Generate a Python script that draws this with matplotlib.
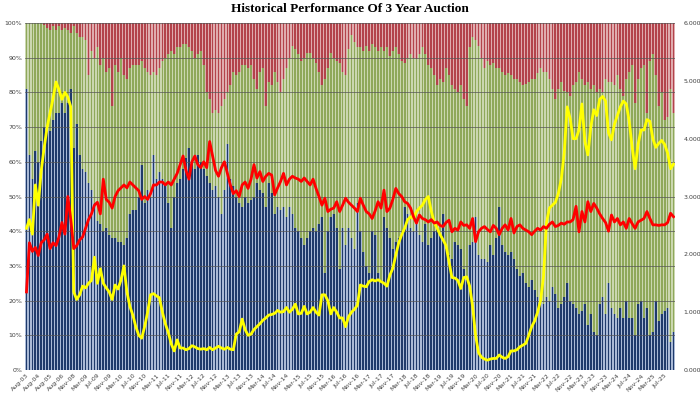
import matplotlib
matplotlib.use("Agg")
import matplotlib.pyplot as plt
import numpy as np
import pandas as pd

# auction dates: quarterly Aug-03..May-07, then monthly Nov-08..Oct-25
dates = list(pd.date_range("2003-08-01", periods=16, freq="3MS")) + \
    list(pd.date_range("2008-11-01", "2025-10-01", freq="MS"))
labels = [d.strftime("%b-%y") for d in dates]

# bottom share (%)
blue = [
    81, 62, 55, 63, 60, 66, 70, 70, 69, 72, 74, 74, 77, 74, 77, 81,
    64, 71, 62, 58, 57, 54, 52, 48, 43, 42, 40, 41, 39, 38, 38, 37, 37, 36, 38, 45, 46,
    46, 50, 59, 48, 52, 50, 62, 55, 57, 55, 54, 48, 41, 50, 54, 55, 58, 61, 64, 60,
    58, 62, 60, 58, 56, 54, 52, 53, 50, 45, 52, 65, 55, 53, 50, 48, 47, 50,
    48, 49, 50, 54, 52, 51, 47, 54, 51, 45, 47, 46, 47, 44, 47, 45, 41, 40, 38, 36,
    38, 40, 41, 40, 42, 44, 28, 40, 44, 45, 41, 29, 41, 36, 41, 38, 35, 48,
    40, 34, 30, 28, 40, 39, 28, 26, 44, 41, 38, 35, 37, 38, 40, 47, 45, 41, 40, 42,
    39, 37, 42, 36, 38, 40, 41, 39, 45, 35, 33, 32, 37, 36, 35, 29, 26,
    36, 37, 44, 33, 32, 32, 31, 36, 33, 38, 47, 36, 34, 33, 34, 32, 29, 27, 28, 25,
    24, 26, 23, 21, 20, 19, 21, 20, 24, 22, 18, 19, 21, 25, 20, 19, 18, 16,
    17, 19, 13, 16, 11, 10, 19, 21, 16, 25, 18, 16, 15, 18, 15, 20, 15, 15, 10, 19,
    20, 15, 18, 10, 11, 20, 14, 16, 17, 18, 8, 11,
]

# top of the middle series (%), the rest up to 100% is the top series
green_top = [
    100, 100, 100, 100, 100, 100, 99.5, 98.5, 98, 99, 98, 99, 98, 98.5, 98, 97,
    99, 97, 96, 96, 95, 85, 92, 90, 93, 88, 90, 86, 87, 76, 88, 86, 90, 85, 84, 87, 88,
    88, 88, 89, 87, 86, 85, 86, 85, 87, 89, 90, 91, 92, 91, 93, 93, 94, 94, 93, 92,
    90, 91, 92, 88, 80, 78, 74, 75, 74, 76, 78, 80, 82, 86, 85, 86, 88, 88,
    87, 88, 84, 81, 86, 87, 76, 83, 82, 86, 83, 80, 84, 87, 90, 93.5, 92.5, 91, 89, 90,
    91.5, 91.5, 90, 88.5, 86, 82, 84, 87, 91.5, 90, 89, 88.5, 86, 85, 92.5, 96.5, 94.5, 93,
    93, 92, 93.5, 92, 94, 93, 92, 93, 92, 93, 90.5, 92, 93, 91, 89, 88.5, 90, 91, 90, 89.5,
    91, 93, 91, 88, 87, 85, 82, 84, 83, 87, 85, 82, 81, 80, 82, 78, 76,
    93, 96, 95, 93.5, 90, 87, 89, 88, 88.5, 87, 87, 86, 85, 85.5, 85, 84, 84, 83, 82, 82.5,
    83, 84, 84, 85.5, 87, 86, 86, 84, 81, 78, 81, 83, 80.5, 80, 79, 82, 83, 86,
    84, 82, 83, 81, 82, 80, 81, 80, 84, 83, 83, 82, 85, 81, 79, 84, 86, 88, 77, 84,
    87, 88, 74, 89, 91, 85, 76, 80, 72, 73, 81, 74,
]

# right axis: high yield (yellow) and bid to cover (red)
high_yield = [
    2.45, 2.6, 2.35, 3.2, 2.85, 3.45, 3.85, 4.2, 4.45, 4.7, 4.98, 4.85, 4.68, 4.8, 4.72, 4.55,
    1.35, 1.22, 1.3, 1.45, 1.42, 1.5, 1.55, 1.95, 1.5, 1.75, 1.5, 1.42, 1.35, 1.22, 1.47,
    1.4, 1.56, 1.8, 1.35, 1.1, 0.95,
    0.75, 0.6, 0.55, 0.75, 1.0, 1.3, 1.32, 1.28, 1.25, 1.0, 0.8, 0.65, 0.45, 0.33, 0.52,
    0.38, 0.38, 0.35, 0.37, 0.42, 0.4, 0.37, 0.36, 0.37, 0.35, 0.39, 0.35, 0.38, 0.41, 0.38,
    0.36, 0.39, 0.36, 0.35, 0.62, 0.66, 0.88, 0.7,
    0.6, 0.62, 0.7, 0.75, 0.8, 0.86, 0.9, 0.95, 0.96, 0.98, 1.03, 1.0, 1.01, 1.08, 1.0,
    1.05, 1.14, 0.97, 0.98, 1.1, 0.97, 1.0, 1.08, 1.0, 0.95, 1.3, 1.3, 1.2, 0.97, 1.08,
    1.0, 0.9, 0.9, 0.75, 0.92, 1.0, 1.05, 1.12,
    1.47, 1.45, 1.44, 1.53, 1.56, 1.54, 1.56, 1.53, 1.5, 1.45, 1.64, 1.76, 1.99, 2.2, 2.34,
    2.45, 2.6, 2.65, 2.62, 2.74, 2.8, 2.85, 2.95, 3.0, 2.75, 2.55, 2.45, 2.34, 2.25, 2.15,
    1.87, 1.6, 1.59, 1.55, 1.41, 1.6, 1.61,
    1.45, 1.1, 0.6, 0.3, 0.22, 0.19, 0.17, 0.19, 0.2, 0.2, 0.26, 0.22, 0.2, 0.23, 0.33,
    0.33, 0.35, 0.4, 0.43, 0.46, 0.6, 0.75, 0.85, 1.0, 1.2, 1.62, 2.55, 2.8, 2.85, 2.9,
    3.05, 3.3, 3.75, 4.55, 4.35, 4.0, 4.0, 4.15,
    4.6, 3.95, 3.72, 4.2, 4.5, 4.4, 4.68, 4.73, 4.65, 4.1, 3.98, 4.25, 4.4, 4.55, 4.65,
    4.6, 4.3, 3.85, 3.48, 3.9, 4.15, 4.15, 4.33, 4.3, 4.0, 3.85, 3.92, 3.97, 3.9, 3.75,
    3.48, 3.56,
]

bid_to_cover = [
    1.35, 2.2, 2.05, 2.12, 1.98, 2.2, 2.25, 2.35, 2.1, 2.2, 2.15, 2.3, 2.55, 2.35, 3.0, 2.6,
    2.1, 2.15, 2.25, 2.3, 2.45, 2.6, 2.7, 2.85, 2.9, 2.7, 3.3, 2.95, 2.9, 2.8, 3.0, 3.1,
    3.15, 3.2, 3.15, 3.25, 3.2,
    3.15, 3.1, 2.95, 3.0, 2.95, 3.05, 3.2, 3.2, 3.25, 3.25, 3.2, 3.25, 3.2, 3.3, 3.4,
    3.55, 3.7, 3.45, 3.3, 3.6, 3.7, 3.55, 3.5, 3.6, 3.5, 3.95, 3.7, 3.45, 3.35, 3.5, 3.6,
    3.4, 3.2, 3.05, 3.1, 3.0, 3.2, 3.25,
    3.14, 3.3, 3.55, 3.32, 3.43, 3.26, 3.35, 3.4, 3.37, 3.03, 3.15, 3.26, 3.4, 3.2, 3.3,
    3.35, 3.32, 3.3, 3.26, 3.32, 3.26, 3.2, 3.3, 3.14, 3.0, 2.85, 2.97, 2.74, 2.78, 2.8,
    2.91, 2.74, 2.85, 2.97, 2.9, 2.85, 2.8, 2.74,
    2.97, 2.85, 2.74, 2.7, 2.62, 2.75, 2.91, 2.8, 3.11, 2.74, 2.8, 2.95, 3.14, 3.05, 3.0,
    2.91, 2.88, 2.8, 2.65, 2.54, 2.68, 2.62, 2.6, 2.56, 2.6, 2.54, 2.56, 2.5, 2.48, 2.55,
    2.59, 2.39, 2.45, 2.42, 2.56, 2.5, 2.51,
    2.45, 2.62, 2.22, 2.39, 2.45, 2.48, 2.43, 2.39, 2.5, 2.45, 2.34, 2.45, 2.51, 2.42, 2.62,
    2.37, 2.48, 2.51, 2.45, 2.42, 2.39, 2.34, 2.4, 2.45, 2.42, 2.48, 2.45, 2.52, 2.56, 2.48,
    2.5, 2.54, 2.52, 2.56, 2.56, 2.6, 2.83, 2.39,
    2.74, 2.56, 2.91, 2.74, 2.88, 2.8, 2.7, 2.62, 2.55, 2.4, 2.68, 2.56, 2.62, 2.51, 2.56,
    2.45, 2.62, 2.53, 2.45, 2.56, 2.59, 2.62, 2.74, 2.62, 2.51, 2.51, 2.5, 2.51, 2.51, 2.55,
    2.71, 2.65,
]

n = len(labels)
x = np.arange(n)
blue = np.array(blue, dtype=float)
green = np.array(green_top, dtype=float) - blue
red = 100 - np.array(green_top, dtype=float)

fig = plt.figure(figsize=(7, 3.94), dpi=100)
ax = fig.add_axes([0.0357, 0.0609, 0.9286, 0.8807])

series = [
    (blue, np.zeros(n), "#1f3a6b", "#a9b9d6"),
    (green, blue, "#8fa85a", "#cbd7b0"),
    (red, blue + green, "#b3434b", "#dfabae"),
]
for vals, bottom, dark, light in series:
    ax.bar(x, vals, bottom=bottom, width=1.0, color=light, linewidth=0, zorder=1)
    ax.bar(x, vals, bottom=bottom, width=0.58, color=dark, linewidth=0, zorder=1.5)

ax.set_xlim(-0.5, n - 0.5)
ax.set_ylim(0, 100)
ax.set_yticks(np.arange(0, 101, 10))
ax.set_yticklabels([f"{v}%" for v in range(0, 101, 10)])
ax.yaxis.grid(True, color="#555555", linewidth=0.5, zorder=2)
ax.set_axisbelow(False)
ax.set_xticks(x[::4])
ax.set_xticklabels(labels[::4], rotation=45, ha="right", rotation_mode="anchor")
ax.tick_params(axis="both", length=0, labelsize=4.5, labelcolor="#404040", pad=2)
for s in ax.spines.values():
    s.set_visible(False)

ax2 = ax.twinx()
ax2.plot(x, high_yield, color="#ffff00", linewidth=2.0, zorder=3)
ax2.plot(x, bid_to_cover, color="#ff0000", linewidth=2.0, zorder=4)
ax2.set_ylim(0, 6)
ax2.set_yticks(np.arange(0, 7, 1))
ax2.set_yticklabels([f"{v:.3f}" for v in range(0, 7)])
ax2.tick_params(axis="y", length=0, labelsize=4.5, labelcolor="#404040", pad=6)
for s in ax2.spines.values():
    s.set_visible(False)

fig.text(0.5, 0.978, "Historical Performance Of 3 Year Auction", ha="center", va="center",
         fontsize=9.5, fontweight="bold", family="Liberation Serif")

fig.savefig("out.png", dpi=100)
